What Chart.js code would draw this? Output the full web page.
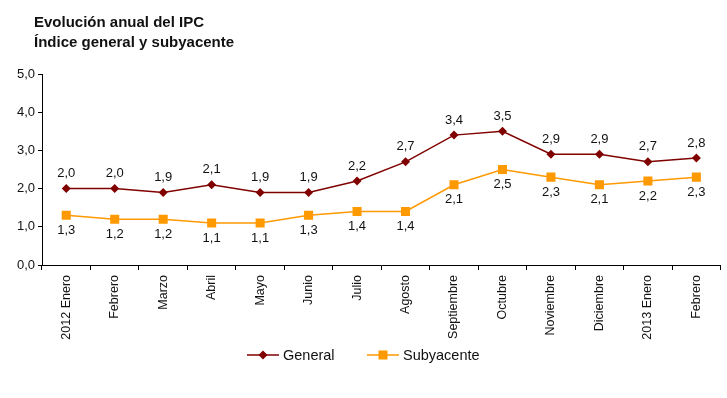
<!DOCTYPE html>
<html>
<head>
<meta charset="utf-8">
<script src="https://cdn.jsdelivr.net/npm/chart.js"></script>
<style>
  body { margin: 0; background: #fff; }
  #wrap { position: relative; width: 727px; height: 398px; }
  #title { position: absolute; left: 34px; top: 12px; font: bold 15px "Liberation Sans", Arial, sans-serif; color: #111; line-height: 20px; }
</style>
</head>
<body>
<div id="wrap">
  <canvas id="ipcChart" width="727" height="398"></canvas>
  <div id="title">Evolución anual del IPC<br>Índice general y subyacente</div>
</div>
<script>
const months = ['2012 Enero', 'Febrero', 'Marzo', 'Abril', 'Mayo', 'Junio', 'Julio', 'Agosto',
  'Septiembre', 'Octubre', 'Noviembre', 'Diciembre', '2013 Enero', 'Febrero'];
const general = [2.0, 2.0, 1.9, 2.1, 1.9, 1.9, 2.2, 2.7, 3.4, 3.5, 2.9, 2.9, 2.7, 2.8];
const subyacente = [1.3, 1.2, 1.2, 1.1, 1.1, 1.3, 1.4, 1.4, 2.1, 2.5, 2.3, 2.1, 2.2, 2.3];

const fmt = v => v.toFixed(1).replace('.', ',');
const FONT = '"Liberation Sans", Arial, sans-serif';

// value labels: general above, subyacente below
const valueLabels = {
    id: 'valueLabels',
    afterDatasetsDraw(chart) {
        const ctx = chart.ctx;
        ctx.save();
        ctx.font = '13px ' + FONT;
        ctx.fillStyle = '#111';
        ctx.textAlign = 'center';
        ctx.textBaseline = 'middle';
        chart.data.datasets.forEach((ds, i) => {
            const meta = chart.getDatasetMeta(i);
            meta.data.forEach((pt, j) => {
                const dy = i === 0 ? -15 : 15;
                ctx.fillText(fmt(ds.data[j]), pt.x, pt.y + dy);
            });
        });
        ctx.restore();
    }
};

// legend drawn as line + marker like the original
const lineLegend = {
    id: 'lineLegend',
    afterDraw(chart) {
        const ctx = chart.ctx;
        const items = [
            { x: 247, text: 'General', color: '#800000', style: 'rectRot', r: 4.5 },
            { x: 367, text: 'Subyacente', color: '#FF9900', style: 'rect', r: 6.4 }
        ];
        const y = 355;
        ctx.save();
        items.forEach(it => {
            ctx.strokeStyle = it.color;
            ctx.lineWidth = 1.5;
            ctx.beginPath();
            ctx.moveTo(it.x, y);
            ctx.lineTo(it.x + 32, y);
            ctx.stroke();
            ctx.fillStyle = it.color;
            Chart.helpers.drawPoint(ctx, { pointStyle: it.style, radius: it.r, borderWidth: 0 }, it.x + 16, y);
            ctx.fillStyle = '#111';
            ctx.font = '14.5px ' + FONT;
            ctx.textBaseline = 'middle';
            ctx.fillText(it.text, it.x + 36, y + 1);
        });
        ctx.restore();
    }
};

new Chart(document.getElementById('ipcChart'), {
    type: 'line',
    data: {
        labels: months,
        datasets: [{
            label: 'General',
            data: general,
            borderColor: '#800000',
            backgroundColor: '#800000',
            borderWidth: 1.5,
            pointStyle: 'rectRot',
            pointRadius: 4.5,
            pointBorderWidth: 0,
            tension: 0
        }, {
            label: 'Subyacente',
            data: subyacente,
            borderColor: '#FF9900',
            backgroundColor: '#FF9900',
            borderWidth: 1.5,
            pointStyle: 'rect',
            pointRadius: 6.4,
            pointBorderWidth: 0,
            tension: 0
        }]
    },
    options: {
        responsive: false,
        animation: false,
        events: [],
        layout: { padding: { top: 74, right: 1, left: 0, bottom: 0 } },
        plugins: { legend: { display: false }, tooltip: { enabled: false } },
        scales: {
            x: {
                offset: true,
                grid: { offset: true, drawOnChartArea: false, color: '#000', tickLength: 5 },
                border: { color: '#000', width: 1 },
                ticks: { color: '#111', font: { family: FONT, size: 12.5 }, maxRotation: 90, minRotation: 90, autoSkip: false, padding: 5 },
                afterFit(s) { s.height = 133; }
            },
            y: {
                min: 0, max: 5,
                grid: { drawOnChartArea: false, color: '#000', tickLength: 4 },
                border: { color: '#000', width: 1 },
                ticks: { stepSize: 1, color: '#111', font: { family: FONT, size: 13 }, padding: 3, callback: v => fmt(v) },
                afterFit(s) { s.width = 42; }
            }
        }
    },
    plugins: [valueLabels, lineLegend]
});
</script>
</body>
</html>
